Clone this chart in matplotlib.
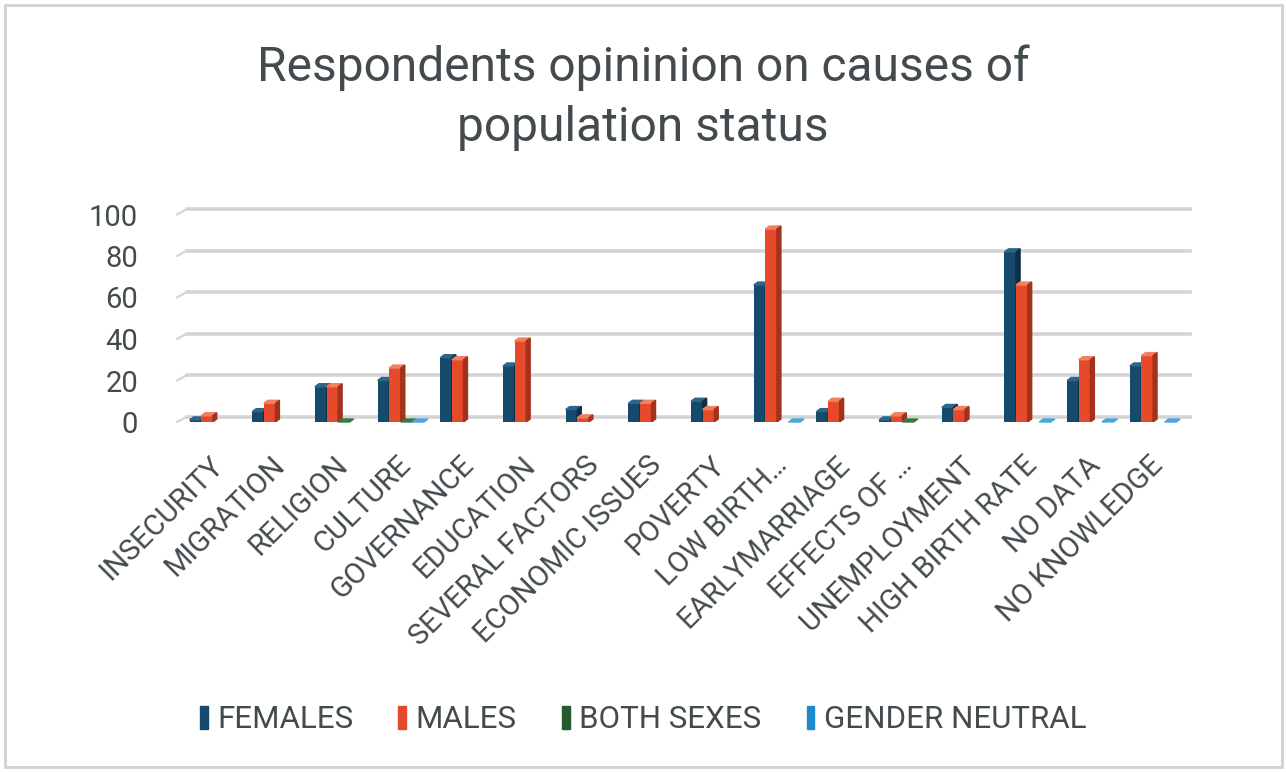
import numpy as np
import matplotlib
matplotlib.use("Agg")
import matplotlib.pyplot as plt
from matplotlib.patches import Polygon, Patch, Rectangle

plt.rcParams['font.family'] = ['Roboto', 'DejaVu Sans']

categories = ["INSECURITY", "MIGRATION", "RELIGION", "CULTURE", "GOVERNANCE",
              "EDUCATION", "SEVERAL FACTORS", "ECONOMIC ISSUES", "POVERTY",
              "LOW BIRTH…", "EARLYMARRIAGE", "EFFECTS OF …", "UNEMPLOYMENT",
              "HIGH BIRTH RATE", "NO DATA", "NO KNOWLEDGE"]
nan = np.nan
females = [1, 5, 17, 20, 31, 27, 6, 9, 10, 66, 5, 1, 7, 82, 20, 27]
males = [3, 9, 17, 26, 30, 39, 2, 9, 6, 93, 10, 3, 6, 66, 30, 32]
both_sexes = [nan, nan, 0, 0, nan, nan, nan, nan, nan, nan, nan, 0, nan, nan, nan, nan]
gender_neutral = [nan, nan, nan, 0, nan, nan, nan, nan, nan, 0, nan, nan, nan, 0, 0, 0]
series_names = ["FEMALES", "MALES", "BOTH SEXES", "GENDER NEUTRAL"]
y_ticks = [0, 20, 40, 60, 80, 100]

# front, top, side colours for each series
palette = [("#164a6c", "#2d6688", "#0c2f46"),
           ("#e64a2a", "#f0805f", "#a3321c"),
           ("#235b2b", "#3a7a42", "#143a19"),
           ("#1f8acb", "#4aa6de", "#136594")]

W, H = 1286, 772
fig = plt.figure(figsize=(W / 100, H / 100), dpi=100)

# plot area in pixels (front plane)
x0, x1 = 177, 1180
y_zero, y_top = 422, 214.5
ax = fig.add_axes([x0 / W, (H - y_zero) / H, (x1 - x0) / W, (y_zero - y_top) / H])
n = len(categories)
ax.set_xlim(-0.5, n - 0.5)
ax.set_ylim(0, 100)
for s in ax.spines.values():
    s.set_visible(False)
ax.tick_params(length=0)

# depth of the back wall and of each column, in data units
px_x = n / (x1 - x0)
px_y = 100 / (y_zero - y_top)
back_dx, back_dy = 10 * px_x, 5.5 * px_y
bar_dx, bar_dy = 4 * px_x, 3 * px_y

grid_col = "#d4d4d4"
for v in y_ticks:
    ax.plot([-0.5, -0.5 + back_dx], [v, v + back_dy], color=grid_col, lw=1.6,
            clip_on=False, zorder=1, solid_capstyle='round')
    ax.plot([-0.5 + back_dx, n - 0.5 + back_dx], [v + back_dy, v + back_dy],
            color=grid_col, lw=2.6, clip_on=False, zorder=1)

bar_w = 0.185
x = np.arange(n)
shift = 0.07
all_series = [females, males, both_sexes, gender_neutral]
for i in range(n):
    for k, vals in enumerate(all_series):
        h = vals[i]
        if np.isnan(h):
            continue
        front, top, side = palette[k]
        xl = x[i] + shift + (k - 2) * bar_w
        ax.bar(xl, h, width=bar_w, align='edge', color=front, zorder=3)
        ax.add_patch(Polygon([(xl, h), (xl + bar_w, h), (xl + bar_w + bar_dx, h + bar_dy),
                              (xl + bar_dx, h + bar_dy)], closed=True, color=top,
                             zorder=3, clip_on=False))
        if h > 0:
            ax.add_patch(Polygon([(xl + bar_w, 0), (xl + bar_w + bar_dx, bar_dy),
                                  (xl + bar_w + bar_dx, h + bar_dy), (xl + bar_w, h)],
                                 closed=True, color=side, zorder=3))

text_col = "#444b4f"
ax.set_yticks(y_ticks)
ax.set_yticklabels([str(v) for v in y_ticks], fontsize=21, color=text_col)
ax.tick_params(axis='y', pad=28)
ax.set_xticks(x)
ax.set_xticklabels(categories, rotation=45, ha='right', rotation_mode='anchor',
                   fontsize=21, color=text_col)
ax.tick_params(axis='x', pad=21)

fig.text(0.5, 1 - 68 / H, "Respondents opininion on causes of", ha='center',
         va='center', fontsize=34.5, color=text_col)
fig.text(0.5, 1 - 128 / H, "population status", ha='center', va='center',
         fontsize=34.5, color=text_col)

handles = [Patch(color=palette[k][0]) for k in range(4)]
fig.legend(handles, series_names, loc='center', bbox_to_anchor=(0.5, 1 - 720 / H),
           ncol=4, frameon=False, fontsize=22.5, handlelength=0.25, handleheight=0.75,
           handletextpad=0.3, columnspacing=1.45, labelcolor=text_col)

fig.patches.append(Rectangle((5 / W, 5 / H), (W - 9) / W, (H - 10) / H,
                             transform=fig.transFigure, fill=False,
                             edgecolor="#d2d2d2", lw=2))

fig.savefig("out.png", dpi=100)
